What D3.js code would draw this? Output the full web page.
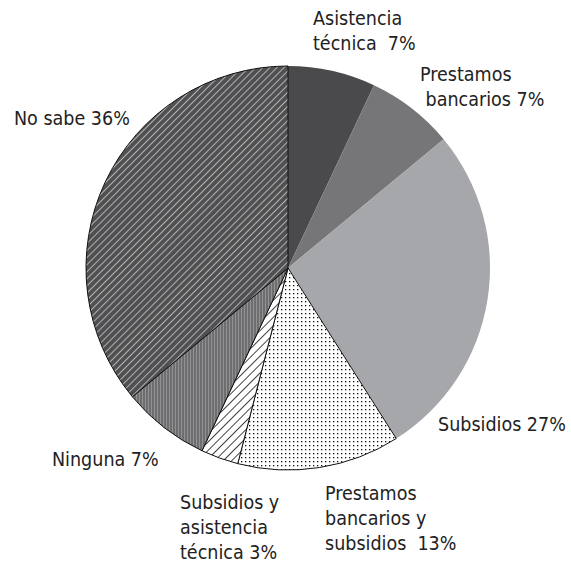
<!DOCTYPE html>
<html>
<head>
<meta charset="utf-8">
<script src="https://cdn.jsdelivr.net/npm/d3@7"></script>
<style>
  body { margin: 0; background: #fff; }
  text { font-family: "Liberation Sans Narrow", "DejaVu Sans Condensed", "Roboto Condensed", sans-serif; font-size: 19.5px; fill: #222; }
</style>
</head>
<body>
<div id="chart"></div>
<script>
// Data
const categories = ["Asistencia técnica", "Prestamos bancarios", "Subsidios", "Prestamos bancarios y subsidios", "Subsidios y asistencia técnica", "Ninguna", "No sabe"];
const values = [7, 7, 27, 13, 3, 7, 36];
const labelLines = [
  ["Asistencia", "técnica  7%"],
  ["Prestamos", " bancarios 7%"],
  ["Subsidios 27%"],
  ["Prestamos", "bancarios y", "subsidios  13%"],
  ["Subsidios y", "asistencia", "técnica 3%"],
  ["Ninguna 7%"],
  ["No sabe 36%"]
];

const width = 571, height = 575;
const cx = 288, cy = 268, r = 202;

const svg = d3.select("#chart").append("svg")
  .attr("width", width)
  .attr("height", height)
  .attr("viewBox", [0, 0, width, height]);

const defs = svg.append("defs");

// dots
const pDots = defs.append("pattern").attr("id", "dots")
  .attr("patternUnits", "userSpaceOnUse").attr("width", 4).attr("height", 4);
pDots.append("rect").attr("width", 4).attr("height", 4).attr("fill", "#fff");
pDots.append("rect").attr("x", 1).attr("y", 1).attr("width", 1.3).attr("height", 1.3).attr("fill", "#111");

// black diagonal lines on white
const pDiag = defs.append("pattern").attr("id", "diag")
  .attr("patternUnits", "userSpaceOnUse").attr("width", 6).attr("height", 6)
  .attr("patternTransform", "rotate(45)");
pDiag.append("rect").attr("width", 6).attr("height", 6).attr("fill", "#fff");
pDiag.append("line").attr("x1", 0).attr("y1", 0).attr("x2", 0).attr("y2", 6)
  .attr("stroke", "#111").attr("stroke-width", 1.6);

// vertical lines on gray
const pVert = defs.append("pattern").attr("id", "vert")
  .attr("patternUnits", "userSpaceOnUse").attr("width", 3).attr("height", 3);
pVert.append("rect").attr("width", 3).attr("height", 3).attr("fill", "#6e6e70");
pVert.append("rect").attr("x", 1).attr("width", 1).attr("height", 3).attr("fill", "#929294");

// white diagonal lines on dark gray
const pDark = defs.append("pattern").attr("id", "darkdiag")
  .attr("patternUnits", "userSpaceOnUse").attr("width", 5).attr("height", 5)
  .attr("patternTransform", "rotate(45)");
pDark.append("rect").attr("width", 5).attr("height", 5).attr("fill", "#505052");
pDark.append("line").attr("x1", 0).attr("y1", 0).attr("x2", 0).attr("y2", 5)
  .attr("stroke", "#f4f4f4").attr("stroke-width", 1.2);

const fills = ["#4a4a4c", "#767679", "#a6a7aa", "url(#dots)", "url(#diag)", "url(#vert)", "url(#darkdiag)"];
const strokes = ["none", "none", "none", "#111", "#111", "#111", "#111"];

const pie = d3.pie().sort(null).value(d => d)(values);
const arc = d3.arc().innerRadius(0).outerRadius(r);

const g = svg.append("g").attr("transform", `translate(${cx},${cy})`);

g.selectAll("path")
  .data(pie)
  .join("path")
  .attr("d", arc)
  .attr("fill", (d, i) => fills[i])
  .attr("stroke", (d, i) => strokes[i])
  .attr("stroke-width", 1)
  .attr("stroke-linejoin", "round");

// label placement (left edge of first line, baseline)
const labelPos = [[313, 25], [420, 81], [438, 431], [325, 500], [180, 509], [52, 466], [14, 125]];
const lineH = 25;

const labels = svg.append("g")
  .selectAll("text")
  .data(labelLines)
  .join("text")
  .attr("x", (d, i) => labelPos[i][0])
  .attr("y", (d, i) => labelPos[i][1])
  .attr("xml:space", "preserve");

labels.each(function (lines, i) {
  d3.select(this).selectAll("tspan")
    .data(lines)
    .join("tspan")
    .attr("x", labelPos[i][0])
    .attr("dy", (d, j) => j === 0 ? 0 : lineH)
    .text(d => d);
});
</script>
</body>
</html>
